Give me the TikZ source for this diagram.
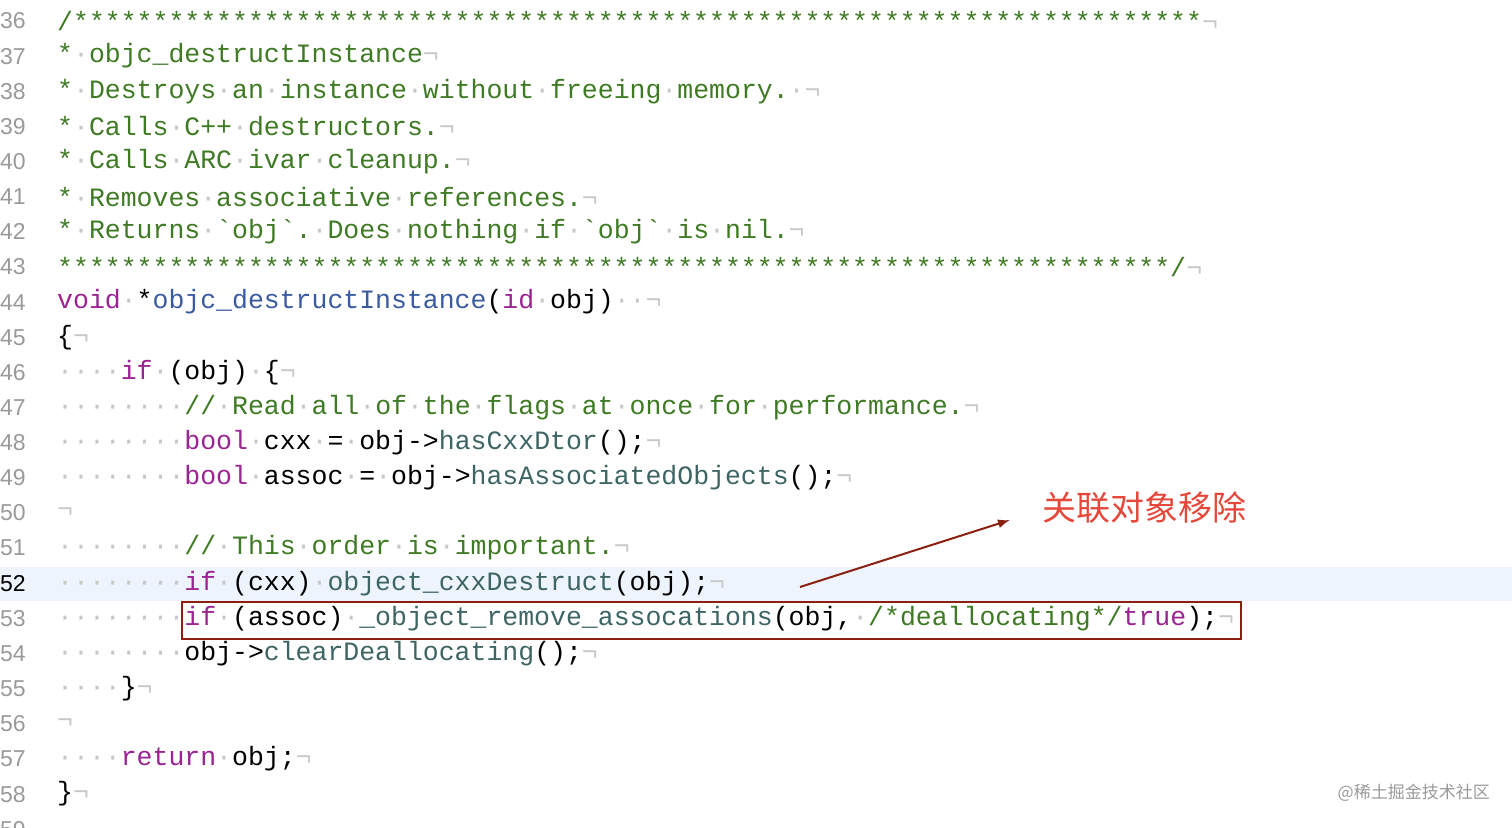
\documentclass[tikz,border=0pt]{standalone}
\usepackage{fontspec}
\usetikzlibrary{arrows.meta}
\newfontfamily\codefont{Liberation Mono}
\newfontfamily\numfont{Liberation Sans}
\newfontfamily\cjk{Noto Sans CJK SC}
\definecolor{cmt}{HTML}{3F7A24}
\definecolor{kw}{HTML}{9B2393}
\definecolor{fn}{HTML}{3A5BA0}
\definecolor{mt}{HTML}{3E6464}
\definecolor{dotc}{HTML}{C8C8C8}
\definecolor{numc}{HTML}{9A9A9A}
\definecolor{boxc}{HTML}{8B2012}
\definecolor{redlbl}{HTML}{E5483A}
\definecolor{hl}{HTML}{EEF4FD}
\newcommand\s{{\color{dotc}\symbol{"B7}}}
\newcommand\e{{\color{dotc}\symbol{"AC}}}
\newcommand\K[1]{{\color{kw}#1}}
\newcommand\C[1]{{\color{cmt}#1}}
\newcommand\F[1]{{\color{fn}#1}}
\newcommand\M[1]{{\color{mt}#1}}
\newcommand\bq{\symbol{96}}
\begin{document}
\begin{tikzpicture}[x=1pt,y=-1pt,
  codeline/.style={anchor=west,inner sep=0pt,font=\codefont\fontsize{26.5}{30}\selectfont},
  num/.style={anchor=west,inner sep=0pt,text=numc,font=\numfont\fontsize{23}{26}\selectfont},
  lbl/.style={anchor=west,inner sep=0pt,text=redlbl,font=\cjk\fontsize{34}{38}\selectfont},
  hlbox/.style={draw=boxc,line width=1.6pt}]
\useasboundingbox (0,0) rectangle (1512,827);
\fill[white] (0,0) rectangle (1512,827);
\fill[hl] (0,567) rectangle (1512,601);
\foreach \n in {36,...,59}{
  \pgfmathsetmacro\yy{21+35.14*(\n-36)}
  \ifnum\n=52
    \node[num,text=black] (n\n) at (0,\yy) {\n};
  \else
    \node[num] (n\n) at (0,\yy) {\n};
  \fi
}
\newcommand\cl[2]{\pgfmathsetmacro\yy{21+35.14*(#1-36)}\node[codeline] (l#1) at (57,\yy) {#2};}
\cl{36}{\C{/***********************************************************************}\e}
\cl{37}{\C{*\s objc\_destructInstance}\e}
\cl{38}{\C{*\s Destroys\s an\s instance\s without\s freeing\s memory.}\s\e}
\cl{39}{\C{*\s Calls\s C++\s destructors.}\e}
\cl{40}{\C{*\s Calls\s ARC\s ivar\s cleanup.}\e}
\cl{41}{\C{*\s Removes\s associative\s references.}\e}
\cl{42}{\C{*\s Returns\s \bq obj\bq.\s Does\s nothing\s if\s \bq obj\bq\s is\s nil.}\e}
\cl{43}{\C{**********************************************************************/}\e}
\cl{44}{\K{void}\s *\F{objc\_destructInstance}(\K{id}\s obj)\s\s\e}
\cl{45}{\{\e}
\cl{46}{\s\s\s\s\K{if}\s(obj)\s\{\e}
\cl{47}{\s\s\s\s\s\s\s\s\C{//\s Read\s all\s of\s the\s flags\s at\s once\s for\s performance.}\e}
\cl{48}{\s\s\s\s\s\s\s\s\K{bool}\s cxx\s=\s obj->\M{hasCxxDtor}();\e}
\cl{49}{\s\s\s\s\s\s\s\s\K{bool}\s assoc\s=\s obj->\M{hasAssociatedObjects}();\e}
\cl{50}{\e}
\cl{51}{\s\s\s\s\s\s\s\s\C{//\s This\s order\s is\s important.}\e}
\cl{52}{\s\s\s\s\s\s\s\s\K{if}\s(cxx)\s\M{object\_cxxDestruct}(obj);\e}
\cl{53}{\s\s\s\s\s\s\s\s\K{if}\s(assoc)\s\M{\_object\_remove\_assocations}(obj,\s\C{/*deallocating*/}\K{true});\e}
\cl{54}{\s\s\s\s\s\s\s\s obj->\M{clearDeallocating}();\e}
\cl{55}{\s\s\s\s\}\e}
\cl{56}{\e}
\cl{57}{\s\s\s\s\K{return}\s obj;\e}
\cl{58}{\}\e}
\node[hlbox,inner sep=0pt,minimum width=1059pt,minimum height=37pt,anchor=north west] (box) at (181,601) {};
\node[lbl] (lbl) at (1042,508) {关联对象移除};
\coordinate (tail) at (800,587);
\coordinate (tip) at (1010,520);
\draw[boxc,line width=2pt,-{Latex[length=12pt,width=9pt]}] (tail) -- (tip);
\node[anchor=east,inner sep=0pt,text=numc,font=\cjk\fontsize{17}{20}\selectfont] (wm) at (1490,793) {@稀土掘金技术社区};
\end{tikzpicture}
\end{document}
